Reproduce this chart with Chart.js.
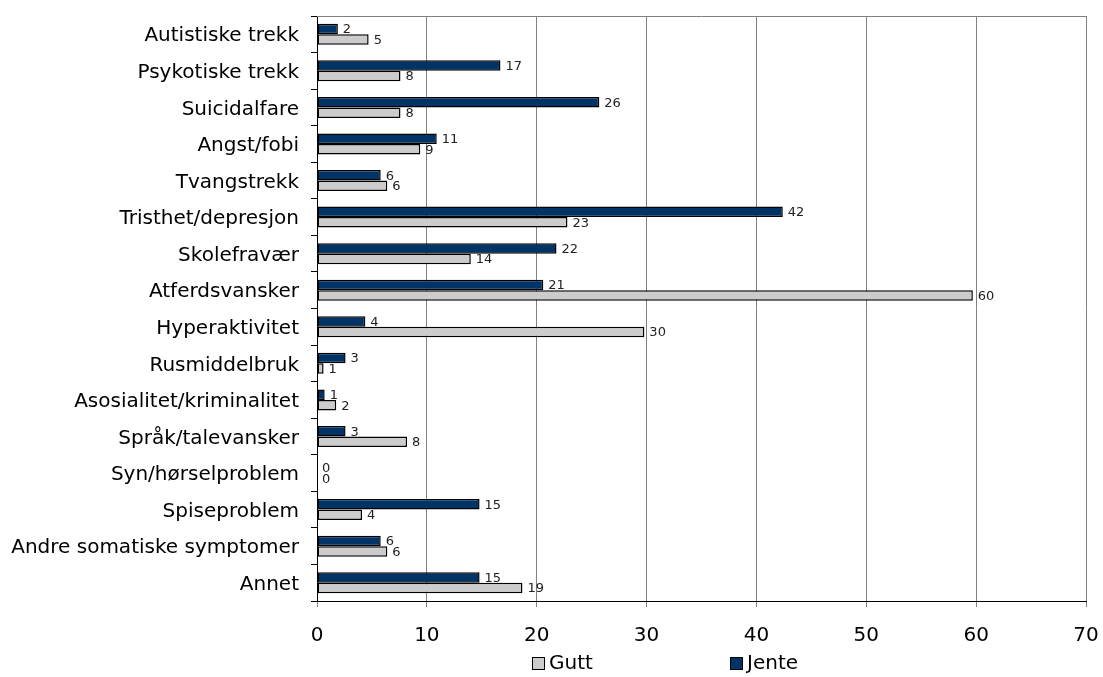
<!DOCTYPE html>
<html>
<head>
<meta charset="utf-8">
<script src="https://cdn.jsdelivr.net/npm/chart.js@4.4.1/dist/chart.umd.min.js"></script>
<style>
  html, body { margin: 0; padding: 0; background: #fff; }
  #wrap { width: 1103px; height: 677px; }
</style>
</head>
<body>
<div id="wrap"><canvas id="wykres" width="1103" height="677"></canvas></div>
<script>
// kategorier (top -> bottom)
const kategorier = [
  'Autistiske trekk', 'Psykotiske trekk', 'Suicidalfare', 'Angst/fobi',
  'Tvangstrekk', 'Tristhet/depresjon', 'Skolefravær', 'Atferdsvansker',
  'Hyperaktivitet', 'Rusmiddelbruk', 'Asosialitet/kriminalitet',
  'Språk/talevansker', 'Syn/hørselproblem', 'Spiseproblem',
  'Andre somatiske symptomer', 'Annet'
];

// verdier lest av bildet
const jente = [1.9, 16.7, 25.7, 10.9, 5.8, 42.4, 21.8, 20.6, 4.4, 2.6, 0.7, 2.6, 0, 14.8, 5.8, 14.8];
const gutt  = [4.7, 7.6, 7.6, 9.4, 6.4, 22.8, 14.0, 59.7, 29.8, 0.6, 1.75, 8.2, 0, 4.1, 6.4, 18.7];

const xMin = 0, xMax = 70, xStep = 10;

const FONT = "'DejaVu Sans', Verdana, sans-serif";

// verdietiketter ved enden av hver stolpe
const etiketter = {
  id: 'etiketter',
  afterDatasetsDraw(chart) {
    const ctx = chart.ctx;
    ctx.save();
    ctx.font = '13px ' + FONT;
    ctx.fillStyle = '#222';
    ctx.textAlign = 'left';
    ctx.textBaseline = 'middle';
    chart.data.datasets.forEach((ds, i) => {
      const meta = chart.getDatasetMeta(i);
      meta.data.forEach((el, j) => {
        ctx.fillText(String(Math.round(ds.data[j])), el.x + 5, el.y + 1);
      });
    });
    ctx.restore();
  }
};

// ramme oppe + egen tegnforklaring
const ramme = {
  id: 'ramme',
  beforeDatasetsDraw(chart) {
    const { ctx, chartArea } = chart;
    ctx.save();
    ctx.strokeStyle = '#808080';
    ctx.lineWidth = 1;
    ctx.beginPath();
    ctx.moveTo(chartArea.left, chartArea.top + 0.5);
    ctx.lineTo(chartArea.right, chartArea.top + 0.5);
    ctx.stroke();
    ctx.restore();
  },
  afterDraw(chart) {
    const ctx = chart.ctx;
    // Gutt forst, så Jente
    const rekkefolge = [1, 0];
    const xs = [532, 730];
    ctx.save();
    ctx.font = '20px ' + FONT;
    ctx.textBaseline = 'middle';
    ctx.textAlign = 'left';
    rekkefolge.forEach((di, k) => {
      const ds = chart.data.datasets[di];
      ctx.fillStyle = ds.backgroundColor;
      ctx.fillRect(xs[k] + 0.5, 657.5, 12, 12);
      ctx.strokeStyle = '#000';
      ctx.lineWidth = 1;
      ctx.strokeRect(xs[k] + 0.5, 657.5, 12, 12);
      ctx.fillStyle = '#000';
      ctx.fillText(ds.label, xs[k] + 17, 664);
    });
    ctx.restore();
  }
};

const ctx = document.getElementById('wykres').getContext('2d');
new Chart(ctx, {
  type: 'bar',
  data: {
    labels: kategorier,
    datasets: [
      {
        label: 'Jente',
        data: jente,
        backgroundColor: '#003366',
        borderColor: '#000',
        borderWidth: 1.5,
        borderSkipped: false,
        barPercentage: 1,
        categoryPercentage: 0.575
      },
      {
        label: 'Gutt',
        data: gutt,
        backgroundColor: '#cccccc',
        borderColor: '#000',
        borderWidth: 1.5,
        borderSkipped: false,
        barPercentage: 1,
        categoryPercentage: 0.575
      }
    ]
  },
  options: {
    indexAxis: 'y',
    responsive: false,
    animation: false,
    layout: { padding: { top: 16, right: 17, bottom: 12, left: 0 } },
    plugins: {
      legend: { display: false },
      tooltip: { enabled: false }
    },
    scales: {
      x: {
        min: xMin,
        max: xMax,
        ticks: {
          stepSize: xStep,
          color: '#000',
          padding: 17,
          font: { family: FONT, size: 20 }
        },
        grid: {
          color: '#808080',
          lineWidth: 1,
          tickLength: 6,
          drawTicks: true
        },
        border: { display: true, color: '#000', width: 1 },
        afterFit(scale) {
          scale.paddingLeft = 0;
          scale.paddingRight = 0;
        }
      },
      y: {
        ticks: {
          color: '#000',
          padding: 12,
          labelOffset: 2,
          autoSkip: false,
          font: { family: FONT, size: 20 }
        },
        grid: {
          drawOnChartArea: false,
          drawTicks: true,
          tickLength: 6,
          color: '#000'
        },
        border: { display: true, color: '#000', width: 1 },
        afterFit(scale) {
          scale.width = 317;
          scale.paddingTop = 0;
          scale.paddingBottom = 0;
        }
      }
    }
  },
  plugins: [etiketter, ramme]
});
</script>
</body>
</html>
